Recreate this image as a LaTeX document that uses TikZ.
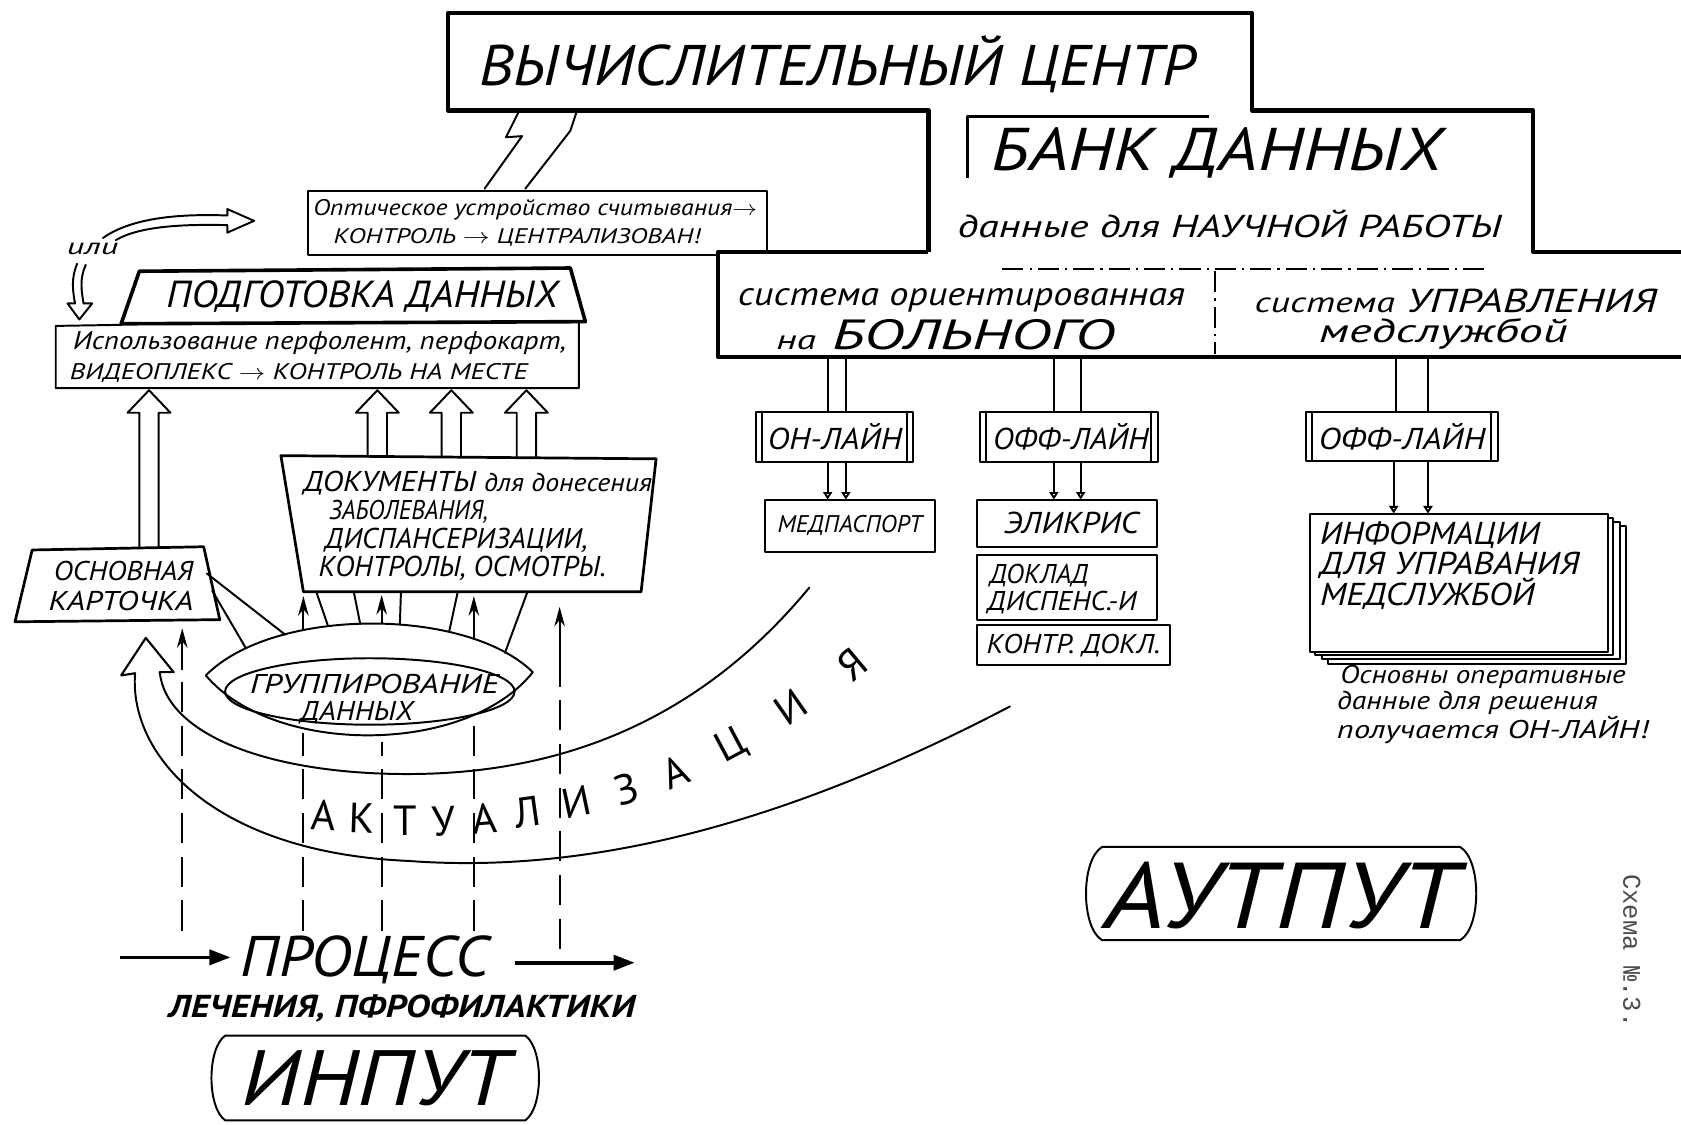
\documentclass[tikz,border=0pt]{standalone}
\usepackage{fontspec}
\setmainfont{PT Sans}
\newfontfamily\monof{Liberation Mono}
\usepackage{graphicx}
\usetikzlibrary{arrows.meta}
\newlength\pxu
\setlength\pxu{0.25mm}
\newcommand\fitw[2]{\resizebox{#1\pxu}{!}{#2}}
\newcommand\fs[1]{\fontsize{#1}{#1}\selectfont}
\newcommand\tn[6]{\node[tx] (#1) at (#2,#3) {\resizebox{#4\pxu}{\height}{\fs{#5}#6}};}
\newcommand\hup[3]{\draw[pen] ({#1-9},#2) -- ({#1-9},{#3+21}) -- ({#1-20},{#3+21}) -- (#1,#3) -- ({#1+20},{#3+21}) -- ({#1+9},{#3+21}) -- ({#1+9},#2);}
\begin{document}
\begin{tikzpicture}[x=0.25mm,y=-0.25mm,
 pen/.style={line width=1.3pt, line join=round, line cap=round},
 heavy/.style={line width=2.8pt, line join=round},
 midln/.style={line width=2pt, line join=round},
 tx/.style={inner sep=0pt, anchor=west, font=\itshape},
 dashln/.style={line width=1.2pt, dash pattern=on 20pt off 9pt},
 dashdot/.style={line width=1.5pt, dash pattern=on 14pt off 4pt on 1.5pt off 4pt},
 solidhead/.style={line width=1.3pt, -{Stealth[length=13pt,width=7pt]}},
 openhead/.style={pen, -{Triangle[open,length=5pt,width=6pt]}},
 bigarrow/.style={line width=2.4pt, -{Triangle[length=14pt,width=10pt]}},
 let/.style={inner sep=0pt, font=\fontsize{28}{28}\selectfont}
]
\useasboundingbox (0,0) rectangle (1568,1049);

% ---------- top blocks
\draw[heavy] (866,235) -- (866,103) -- (418,103) -- (418,12) -- (1168,12) -- (1168,103) -- (1430,103) -- (1430,235) -- (1568,235);
\draw[heavy] (866,235) -- (670,235) -- (670,333) -- (1568,333);
\draw[midln] (902,166) -- (902,109) -- (1128,109);
\draw[dashdot] (935,251) -- (1385,251);
\draw[dashdot] (1133,253) -- (1133,330);

\tn{vc}{447}{60}{668}{38}{ВЫЧИСЛИТЕЛЬНЫЙ ЦЕНТР}
\tn{bank}{925}{143}{420}{40}{БАНК ДАННЫХ}
\tn{nauch}{893}{209}{507}{21}{данные для НАУЧНОЙ РАБОТЫ}
\tn{sys1a}{688}{280}{417}{22}{система ориентированная}
\tn{sys1b}{724}{312}{316}{28}{{\fs{18}на} БОЛЬНОГО}
\tn{sys2a}{1170}{281}{375}{22}{{\fs{19}система} УПРАВЛЕНИЯ}
\tn{sys2b}{1230}{311}{232}{22}{медслужбой}

% ---------- optical box
\draw[pen] (670,238) -- (287,238) -- (287,178) -- (715,178) -- (715,235);
\tn{opt1}{292}{196}{414}{15}{Оптическое устройство считывания$\to$}
\tn{opt2}{311}{221}{342}{14}{КОНТРОЛЬ $\to$ ЦЕНТРАЛИЗОВАН!}
\draw[pen] (452,176) -- (487,127) -- (472,128) -- (484,104);
\draw[pen] (490,176) -- (532,122) -- (538,104);

% ---------- или
\tn{ili}{62}{232}{48}{15}{или}
\draw[pen] (96,222) .. controls (120,205) and (160,199) .. (212,201);
\draw[pen] (108,224) .. controls (130,211) and (170,209) .. (212,210);
\draw[pen] (212,201) -- (212,195) -- (237,206) -- (212,217) -- (212,210);
\draw[pen] (72,246) .. controls (66,260) and (68,272) .. (70,283);
\draw[pen] (80,247) .. controls (74,260) and (76,272) .. (78,283);
\draw[pen] (70,283) -- (63,283) -- (74,298) -- (86,283) -- (78,283);

% ---------- data preparation
\draw[line width=2.4pt, line join=round] (113,302) -- (130,253) -- (532,250) -- (546,300) -- cycle;
\draw[pen] (113,303) -- (52,304) -- (52,362) -- (540,362) -- (540,301);
\tn{podg}{155}{277}{365}{25}{ПОДГОТОВКА ДАННЫХ}
\tn{isp1}{68}{320}{460}{17}{Использование перфолент, перфокарт,}
\tn{isp2}{65}{348}{427}{15}{ВИДЕОПЛЕКС $\to$ КОНТРОЛЬ НА МЕСТЕ}

% ---------- hollow arrows up
\hup{139}{511}{364}
\hup{352}{426}{364}
\hup{421}{426}{364}
\hup{491}{426}{364}

% ---------- documents
\draw[line width=1.8pt, line join=round] (262,425) -- (612,428) -- (598,552) -- (283,552) -- cycle;
\tn{doc1}{283}{451}{325}{19}{ДОКУМЕНТЫ {\fs{17}для донесения}}
\tn{doc2}{307}{477}{148}{18}{ЗАБОЛЕВАНИЯ,}
\tn{doc3}{303}{504}{245}{19}{ДИСПАНСЕРИЗАЦИИ,}
\tn{doc4}{297}{530}{268}{19}{КОНТРОЛЫ, ОСМОТРЫ.}

% ---------- main card
\draw[line width=1.8pt, line join=round] (30,513) -- (190,510) -- (205,578) -- (14,580) -- cycle;
\tn{card1}{50}{533}{130}{18}{ОСНОВНАЯ}
\tn{card2}{45}{561}{135}{18}{КАРТОЧКА}

% ---------- grouping lens
\draw[pen] (192,630) .. controls (255,566) and (435,566) .. (497,627) .. controls (435,705) and (255,705) .. (192,630) -- cycle;
\draw[pen] (345,645) ellipse [x radius=33.75mm, y radius=7.75mm];
\tn{grp1}{233}{638}{232}{18}{ГРУППИРОВАНИЕ}
\tn{grp2}{280}{665}{105}{18}{ДАННЫХ}
\draw[pen] (295,552) -- (306,584);
\draw[pen] (330,552) -- (336,582);
\draw[pen] (374,552) -- (373,582);
\draw[pen] (427,552) -- (419,589);
\draw[pen] (492,552) -- (471,609);
\draw[pen] (193,535) -- (266,592);
\draw[pen] (198,551) -- (229,604);

% ---------- vertical process arrows
\draw[solidhead] (283,589) -- (283,556);
\draw[solidhead] (356,582) -- (356,555);
\draw[solidhead] (442,597) -- (442,556);
\draw[dashln] (170,868) -- (170,625);
\draw[solidhead] (170,625) -- (170,586);
\draw[dashln] (522,885) -- (522,612);
\draw[solidhead] (522,612) -- (522,566);
\draw[dashln] (283,868) -- (283,684);
\draw[dashln] (356,868) -- (356,692);
\draw[dashln] (442,868) -- (442,672);

% ---------- actualisation arrow
\draw[pen, line width=1.4pt] (126,628) -- (113,630) -- (136,595) -- (162,627) -- (149,627);
\draw[pen] (126,628) .. controls (120,705) and (200,795) .. (380,803) .. controls (540,815) and (720,775) .. (942,659);
\draw[pen] (149,627) .. controls (155,685) and (250,722) .. (380,722) .. controls (520,722) and (650,675) .. (755,548);
\node[let, rotate=-3] (a1) at (302,760) {А};
\node[let, rotate=-2] (a2) at (338,763) {К};
\node[let] (a3) at (378,766) {Т};
\node[let, rotate=2] (a4) at (414,766) {У};
\node[let, rotate=5] (a5) at (452,763) {А};
\node[let, rotate=8] (a6) at (492,758) {Л};
\node[let, rotate=12] (a7) at (538,748) {И};
\node[let, rotate=16] (a8) at (584,736) {З};
\node[let, rotate=22] (a9) at (630,720) {А};
\node[let, rotate=28] (a10) at (682,696) {Ц};
\node[let, rotate=35] (a11) at (738,660) {И};
\node[let, rotate=40] (a12) at (795,620) {Я};

% ---------- process / input
\draw[bigarrow] (112,893) -- (215,893);
\draw[bigarrow] (480,898) -- (592,898);
\tn{proc}{224}{895}{232}{38}{ПРОЦЕСС}
\tn{lech}{157}{941}{435}{21}{\bfseries ЛЕЧЕНИЯ, ПФРОФИЛАКТИКИ}
\draw[pen] (210,966) -- (490,966) .. controls (507,978) and (507,1033) .. (490,1045) -- (210,1045) .. controls (193,1033) and (193,978) .. (210,966);
\tn{inp}{225}{1006}{250}{52}{ИНПУТ}

% ---------- output
\draw[pen] (1028,790) -- (1362,790) .. controls (1382,802) and (1382,865) .. (1362,877) -- (1028,877) .. controls (1008,865) and (1008,802) .. (1028,790);
\tn{outp}{1030}{835}{330}{62}{АУТПУТ}

% ---------- on-line / off-line branch
\draw[pen] (772,333) -- (772,384);
\draw[pen] (789,333) -- (789,384);
\draw[pen] (705,384) rectangle (852,431);
\draw[pen] (711,384) -- (711,431);
\draw[pen] (846,384) -- (846,431);
\tn{on1}{716}{407}{125}{20}{ОН-ЛАЙН}
\draw[openhead] (772,431) -- (772,466);
\draw[openhead] (789,431) -- (789,466);
\draw[pen] (714,466) rectangle (872,515);
\tn{medp}{725}{490}{135}{16}{МЕДПАСПОРТ}

\draw[pen] (983,333) -- (983,384);
\draw[pen] (1008,333) -- (1008,384);
\draw[pen] (914,384) rectangle (1080,431);
\draw[pen] (920,384) -- (920,431);
\draw[pen] (1074,384) -- (1074,431);
\tn{off1}{926}{407}{145}{20}{ОФФ-ЛАЙН}
\draw[openhead] (983,431) -- (983,466);
\draw[openhead] (1008,431) -- (1008,466);
\draw[pen] (911,466) rectangle (1079,510);
\tn{elik}{936}{488}{126}{20}{ЭЛИКРИС}
\draw[pen] (911,518) rectangle (1079,578);
\tn{dok1}{923}{537}{92}{18}{ДОКЛАД}
\tn{dok2}{921}{562}{139}{18}{ДИСПЕНС.-И}
\draw[pen] (911,583) rectangle (1091,620);
\tn{kontr}{920}{602}{162}{18}{КОНТР. ДОКЛ.}

\draw[pen] (1302,333) -- (1302,384);
\draw[pen] (1332,333) -- (1332,384);
\draw[pen] (1218,384) rectangle (1397,430);
\draw[pen] (1224,384) -- (1224,430);
\draw[pen] (1391,384) -- (1391,430);
\tn{off2}{1230}{407}{155}{20}{ОФФ-ЛАЙН}
\draw[openhead] (1300,430) -- (1300,479);
\draw[openhead] (1332,430) -- (1332,479);

\draw[pen, fill=white] (1239,491) rectangle (1517,619);
\draw[pen, fill=white] (1233,487) rectangle (1511,615);
\draw[pen, fill=white] (1227,483) rectangle (1505,611);
\draw[pen, fill=white] (1222,479) rectangle (1500,608);
\tn{inf1}{1231}{499}{205}{21}{ИНФОРМАЦИИ}
\tn{inf2}{1231}{527}{242}{21}{ДЛЯ УПРАВАНИЯ}
\tn{inf3}{1231}{554}{200}{21}{МЕДСЛУЖБОЙ}
\tn{cap1}{1250}{631}{266}{17}{Основны оперативные}
\tn{cap2}{1247}{656}{243}{17}{данные для решения}
\tn{cap3}{1247}{681}{290}{17}{получается ОН-ЛАЙН!}

\node[rotate=-90, inner sep=0pt, text=black!70] (sch) at (1522,887) {\fitw{143}{\monof Схема №.3.}};
\end{tikzpicture}
\end{document}
